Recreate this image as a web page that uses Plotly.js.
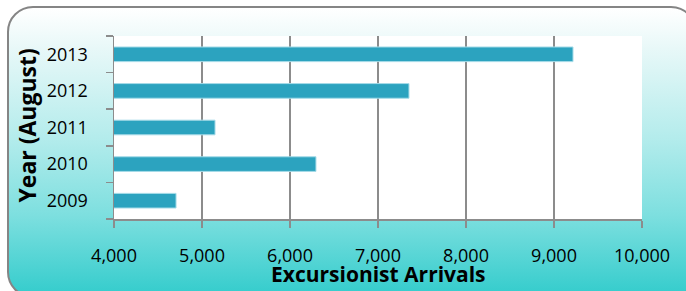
<!DOCTYPE html>
<html>
<head>
<meta charset="utf-8">
<script src="https://cdn.plot.ly/plotly-3.0.1.min.js"></script>
<style>
  html, body { margin: 0; padding: 0; width: 686px; height: 291px; overflow: hidden; background: #ffffff; }
  #bg { position: absolute; left: 7px; top: 6px; width: 690px; height: 292px; box-sizing: border-box;
        border: 2px solid #858585; border-radius: 26px;
        background: linear-gradient(to bottom, #ffffff 0%, #e8f8f8 14%, #b4ecec 45%, #7ddfdf 72%, #33cccc 100%); }
  #chart { position: absolute; left: 0; top: 0; width: 686px; height: 291px; }
</style>
</head>
<body>
<div id="bg"></div>
<div id="chart"></div>
<script>
const years = ['2009', '2010', '2011', '2012', '2013'];
const arrivals = [4705, 6295, 5148, 7352, 9216];
const xTicks = [4000, 5000, 6000, 7000, 8000, 9000, 10000];
const xTickText = ['4,000', '5,000', '6,000', '7,000', '8,000', '9,000', '10,000'];

const font = 'Open Sans, Lato, sans-serif';

const trace = {
  type: 'bar',
  orientation: 'h',
  y: years,
  x: arrivals,
  width: 0.4,
  marker: { color: '#2ca3bf', line: { color: '#a6dbe8', width: 1 } },
  hoverinfo: 'x+y'
};

const layout = {
  width: 686, height: 291,
  margin: { l: 114, r: 44, t: 36, b: 72 },
  paper_bgcolor: 'rgba(0,0,0,0)',
  plot_bgcolor: '#ffffff',
  showlegend: false,
  font: { family: font, size: 18, color: '#000000' },
  xaxis: {
    range: [4000, 10000],
    tickvals: xTicks, ticktext: xTickText,
    showgrid: true, gridcolor: '#8c8c8c', gridwidth: 1.5,
    showline: true, linecolor: '#8c8c8c', linewidth: 1.5,
    ticks: 'outside', ticklen: 7, tickcolor: '#8c8c8c', tickwidth: 1.5,
    ticklabelstandoff: 13,
    zeroline: false, fixedrange: true,
    tickfont: { family: font, size: 18, color: '#000' }
  },
  yaxis: {
    type: 'category',
    categoryorder: 'array', categoryarray: years,
    showgrid: false,
    showline: true, linecolor: '#8c8c8c', linewidth: 1.5,
    ticks: 'outside', ticklen: 7, tickcolor: '#8c8c8c', tickwidth: 1.5,
    tickson: 'boundaries',
    ticklabelstandoff: 21,
    fixedrange: true,
    tickfont: { family: font, size: 18, color: '#000' }
  },
  annotations: [
    { text: '<b>Year (August)</b>', textangle: -90, xref: 'paper', yref: 'paper',
      x: -0.165, y: 0.51, xanchor: 'center', yanchor: 'middle', showarrow: false,
      font: { family: font, size: 23, color: '#000' } },
    { text: '<b>Excursionist Arrivals</b>', xref: 'paper', yref: 'paper',
      x: 0.5, y: -0.30, xanchor: 'center', yanchor: 'middle', showarrow: false,
      font: { family: font, size: 21, color: '#000' } }
  ]
};

Plotly.newPlot('chart', [trace], layout, { displayModeBar: false, staticPlot: true });
</script>
</body>
</html>
